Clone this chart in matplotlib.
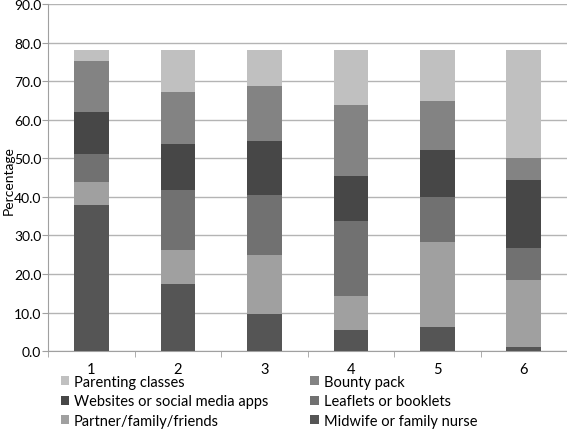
import matplotlib
matplotlib.use('Agg')
import matplotlib.pyplot as plt
import numpy as np

plt.rcParams['font.family'] = ['Lato', 'DejaVu Sans']

groups = ['1', '2', '3', '4', '5', '6']

# stacked from the bottom up
midwife = [37.9, 17.5, 9.7, 5.4, 6.2, 1.0]
partner = [5.9, 8.8, 15.2, 8.8, 22.1, 17.4]
leaflets = [7.4, 15.6, 15.6, 19.5, 11.8, 8.4]
websites = [10.7, 11.8, 14.1, 11.7, 12.0, 17.5]
bounty = [13.3, 13.6, 14.2, 18.4, 12.8, 5.8]
parenting = [2.9, 10.8, 9.3, 14.3, 13.2, 28.0]

series = [
    ('Midwife or family nurse', midwife, '#555555'),
    ('Partner/family/friends', partner, '#a0a0a0'),
    ('Leaflets or booklets', leaflets, '#717171'),
    ('Websites or social media apps', websites, '#474747'),
    ('Bounty pack', bounty, '#838383'),
    ('Parenting classes', parenting, '#c0c0c0'),
]

fig = plt.figure(figsize=(5.67, 4.31), dpi=100)
ax = fig.add_axes([0.085, 0.183, 0.915, 0.805])

x = np.arange(len(groups))
bottom = np.zeros(len(groups))
bars = {}
for name, vals, col in series:
    bars[name] = ax.bar(x, vals, 0.4, bottom=bottom, color=col, label=name, zorder=3)
    bottom += np.array(vals)

ax.set_xlim(-0.5, 5.5)
ax.set_ylim(0, 90)
ax.set_yticks(np.arange(0, 91, 10))
ax.set_yticklabels(['%.1f' % v for v in np.arange(0, 91, 10)], fontsize=10)
ax.set_xticks(x)
ax.set_xticklabels(groups, fontsize=10.5)
ax.set_xticks(np.arange(-0.5, 6, 1), minor=True)
ax.tick_params(axis='x', which='major', length=0, pad=8)
ax.tick_params(axis='x', which='minor', length=4, color='#a0a0a0', direction='out')
ax.tick_params(axis='y', length=4, color='#a0a0a0', pad=1)
ax.grid(axis='y', color='#b4b4b4', linewidth=1.0, zorder=0)
for s in ['top', 'right']:
    ax.spines[s].set_visible(False)
ax.spines['left'].set_color('#a0a0a0')
ax.spines['bottom'].set_color('#a0a0a0')
fig.text(0.016, 0.58, 'Percentage', rotation=90, fontsize=10, ha='center', va='center')

order = ['Parenting classes', 'Websites or social media apps', 'Partner/family/friends',
         'Bounty pack', 'Leaflets or booklets', 'Midwife or family nurse']
fig.legend([bars[n] for n in order], order, ncol=2, loc='upper left',
           bbox_to_anchor=(0.107, 0.128), frameon=False, fontsize=10.5,
           handlelength=0.6, handleheight=0.6, handletextpad=0.3,
           columnspacing=2.9, labelspacing=0.38, borderaxespad=0, borderpad=0)

fig.savefig('out.png', dpi=100)
